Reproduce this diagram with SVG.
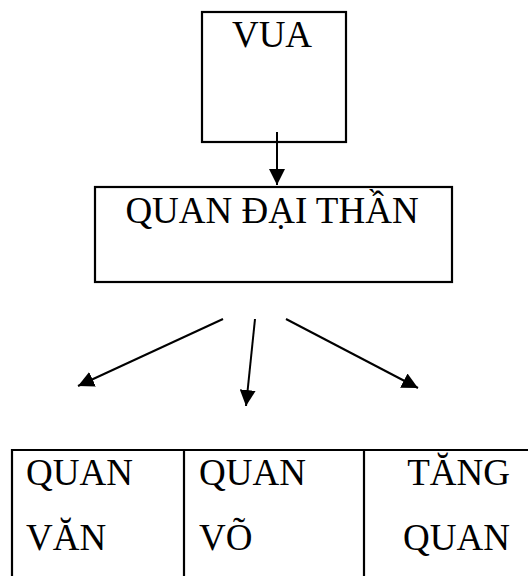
<svg xmlns="http://www.w3.org/2000/svg" width="528" height="576" viewBox="0 0 528 576">
<style>
.box{fill:#fff;stroke:#000;stroke-width:2.2}
.t{font-family:"Liberation Serif","Times New Roman",serif;font-size:37px;fill:#000}
.c{stroke:#000;stroke-width:2;fill:none;marker-end:url(#ah)}
</style>
<defs>
<marker id="ah" viewBox="0 0 10 10" refX="10" refY="5" markerWidth="16" markerHeight="16" markerUnits="userSpaceOnUse" orient="auto">
<path d="M0,0 L10,5 L0,10 Z" fill="#000"/>
</marker>
</defs>
<rect width="528" height="576" fill="#fff"/>
<g id="vua">
<rect class="box" x="202" y="12" width="144" height="130"/>
<text class="t" x="272" y="47" text-anchor="middle">VUA</text>
</g>
<g id="quan-dai-than">
<rect class="box" x="95" y="187" width="357" height="95"/>
<text class="t" x="272" y="223" text-anchor="middle">QUAN ĐẠI THẦN</text>
</g>
<g id="table">
<path d="M12,577 V450 H530 M184,450 V577 M364,450 V577" stroke="#000" stroke-width="2.2" fill="none"/>
</g>
<g id="quan-van">
<text class="t" x="26" y="485">QUAN</text>
<text class="t" x="26" y="550">VĂN</text>
</g>
<g id="quan-vo">
<text class="t" x="199" y="485">QUAN</text>
<text class="t" x="199" y="550">VÕ</text>
</g>
<g id="tang-quan">
<text class="t" x="510" y="485" text-anchor="end">TĂNG</text>
<text class="t" x="510" y="550" text-anchor="end">QUAN</text>
</g>
<g id="connectors">
<line class="c" x1="277" y1="132" x2="277" y2="185"/>
<line class="c" x1="223" y1="319" x2="78" y2="386"/>
<line class="c" x1="255" y1="319" x2="246" y2="406"/>
<line class="c" x1="286" y1="319" x2="418" y2="388"/>
</g>
</svg>
